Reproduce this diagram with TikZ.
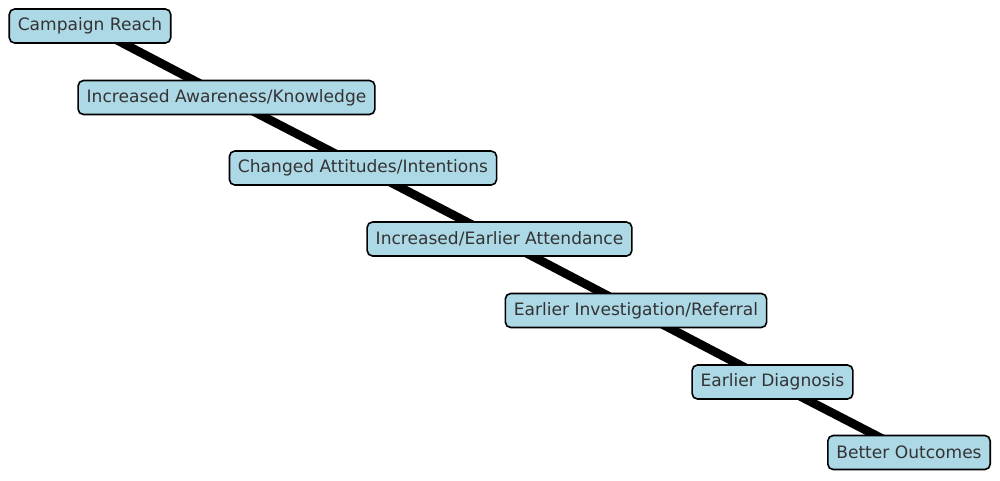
\documentclass[tikz,border=0pt]{standalone}
\usepackage{fontspec}
\setmainfont{DejaVu Sans}
\usetikzlibrary{backgrounds}
\definecolor{boxfill}{HTML}{ADD8E6}
\definecolor{txt}{HTML}{333333}
\tikzset{
  stagebox/.style={draw=black, line width=1.2pt, fill=boxfill, rounded corners=4pt,
    text=txt, font=\fontsize{12.8pt}{14pt}\selectfont, inner xsep=6.4pt, inner ysep=0pt,
    minimum height=25.5pt},
  link/.style={line width=6.5pt, black}
}
\begin{document}
\begin{tikzpicture}[x=0.75pt, y=-0.75pt]
\useasboundingbox (0,0) rectangle (1000,480);
\node[stagebox] (n1) at (90,26) {Campaign Reach};
\node[stagebox] (n2) at (226.5,97.5) {Increased Awareness/Knowledge};
\node[stagebox] (n3) at (363,168) {Changed Attitudes/Intentions};
\node[stagebox] (n4) at (499.5,239) {Increased/Earlier Attendance};
\node[stagebox] (n5) at (636,310.5) {Earlier Investigation/Referral};
\node[stagebox] (n6) at (772.5,382) {Earlier Diagnosis};
\node[stagebox] (n7) at (909,452.5) {Better Outcomes};
\begin{scope}[on background layer]
\draw[link] (n1.center) -- (n2.center);
\draw[link] (n2.center) -- (n3.center);
\draw[link] (n3.center) -- (n4.center);
\draw[link] (n4.center) -- (n5.center);
\draw[link] (n5.center) -- (n6.center);
\draw[link] (n6.center) -- (n7.center);
\end{scope}
\end{tikzpicture}
\end{document}
